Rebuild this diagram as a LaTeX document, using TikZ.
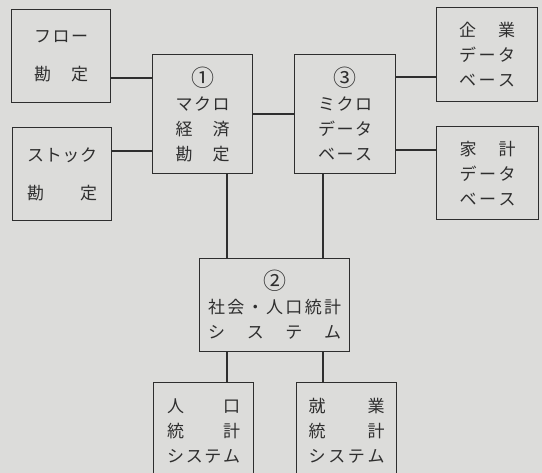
\documentclass[tikz,border=0pt]{standalone}
\usepackage{fontspec}
\newfontfamily\jp{Noto Sans CJK JP}
\newcommand\spr[2]{\makebox[#1][s]{#2}}
\newcommand\circnum[1]{\raisebox{-1pt}{\fontsize{23}{25}\selectfont #1}}
\definecolor{paper}{HTML}{DCDCDA}
\definecolor{ink}{HTML}{2E2E2E}
\begin{document}
\begin{tikzpicture}[x=1pt,y=-1pt,
  box/.style={draw=ink, line width=1.2pt, inner sep=0pt, anchor=north west, text=ink,
    font=\jp\fontsize{17}{25}\selectfont, align=center},
  conn/.style={draw=ink, line width=2pt}]
\useasboundingbox (0,0) rectangle (542,473);
\fill[paper] (0,0) rectangle (542,473);
\clip (0,0) rectangle (542,473);
% boxes
\node[box, minimum width=99, minimum height=93] (flow) at (11,9)
  {\spr{54pt}{フ\hfill ロ\hfill ー}\\[13pt]\spr{54pt}{勘\hfill 定}};
\node[box, minimum width=99, minimum height=93] (stock) at (12,127)
  {\spr{70pt}{ス\hfill ト\hfill ッ\hfill ク}\\[13pt]\spr{70pt}{勘\hfill 定}};
\node[box, minimum width=100, minimum height=119] (macro) at (152,54)
  {\circnum{①}\\\spr{54pt}{マ\hfill ク\hfill ロ}\\\spr{54pt}{経\hfill 済}\\\spr{54pt}{勘\hfill 定}};
\node[box, minimum width=101, minimum height=119] (micro) at (294,54)
  {\circnum{③}\\\spr{54pt}{ミ\hfill ク\hfill ロ}\\\spr{54pt}{デ\hfill ー\hfill タ}\\\spr{54pt}{ベ\hfill ー\hfill ス}};
\node[box, minimum width=101, minimum height=94] (kigyo) at (436,7)
  {\spr{56pt}{企\hfill 業}\\\spr{56pt}{デ\hfill ー\hfill タ}\\\spr{56pt}{ベ\hfill ー\hfill ス}};
\node[box, minimum width=102, minimum height=93] (kakei) at (436,126)
  {\spr{56pt}{家\hfill 計}\\\spr{56pt}{デ\hfill ー\hfill タ}\\\spr{56pt}{ベ\hfill ー\hfill ス}};
\node[box, minimum width=150, minimum height=93] (social) at (199,258)
  {\circnum{②}\\\spr{133pt}{社\hfill 会\hfill ・\hfill 人\hfill 口\hfill 統\hfill 計}\\\spr{133pt}{シ\hfill ス\hfill テ\hfill ム}};
\node[box, minimum width=100, minimum height=96] (pop) at (153,382)
  {\spr{73pt}{人\hfill 口}\\\spr{73pt}{統\hfill 計}\\\spr{73pt}{シ\hfill ス\hfill テ\hfill ム}};
\node[box, minimum width=100, minimum height=96] (emp) at (296,382)
  {\spr{76pt}{就\hfill 業}\\\spr{76pt}{統\hfill 計}\\\spr{76pt}{シ\hfill ス\hfill テ\hfill ム}};
% guide coordinates
\coordinate (h1) at (0,78);
\coordinate (h2) at (0,151);
\coordinate (h3) at (0,114);
\coordinate (h4) at (0,77);
\coordinate (h5) at (0,150);
\coordinate (v1) at (227,0);
\coordinate (v2) at (323,0);
% connectors
\draw[conn] (flow.east |- h1) -- (macro.west |- h1);
\draw[conn] (stock.east |- h2) -- (macro.west |- h2);
\draw[conn] (macro.east |- h3) -- (micro.west |- h3);
\draw[conn] (micro.east |- h4) -- (kigyo.west |- h4);
\draw[conn] (micro.east |- h5) -- (kakei.west |- h5);
\draw[conn] (macro.south -| v1) -- (social.north -| v1);
\draw[conn] (micro.south -| v2) -- (social.north -| v2);
\draw[conn] (social.south -| v1) -- (pop.north -| v1);
\draw[conn] (social.south -| v2) -- (emp.north -| v2);
\end{tikzpicture}
\end{document}
